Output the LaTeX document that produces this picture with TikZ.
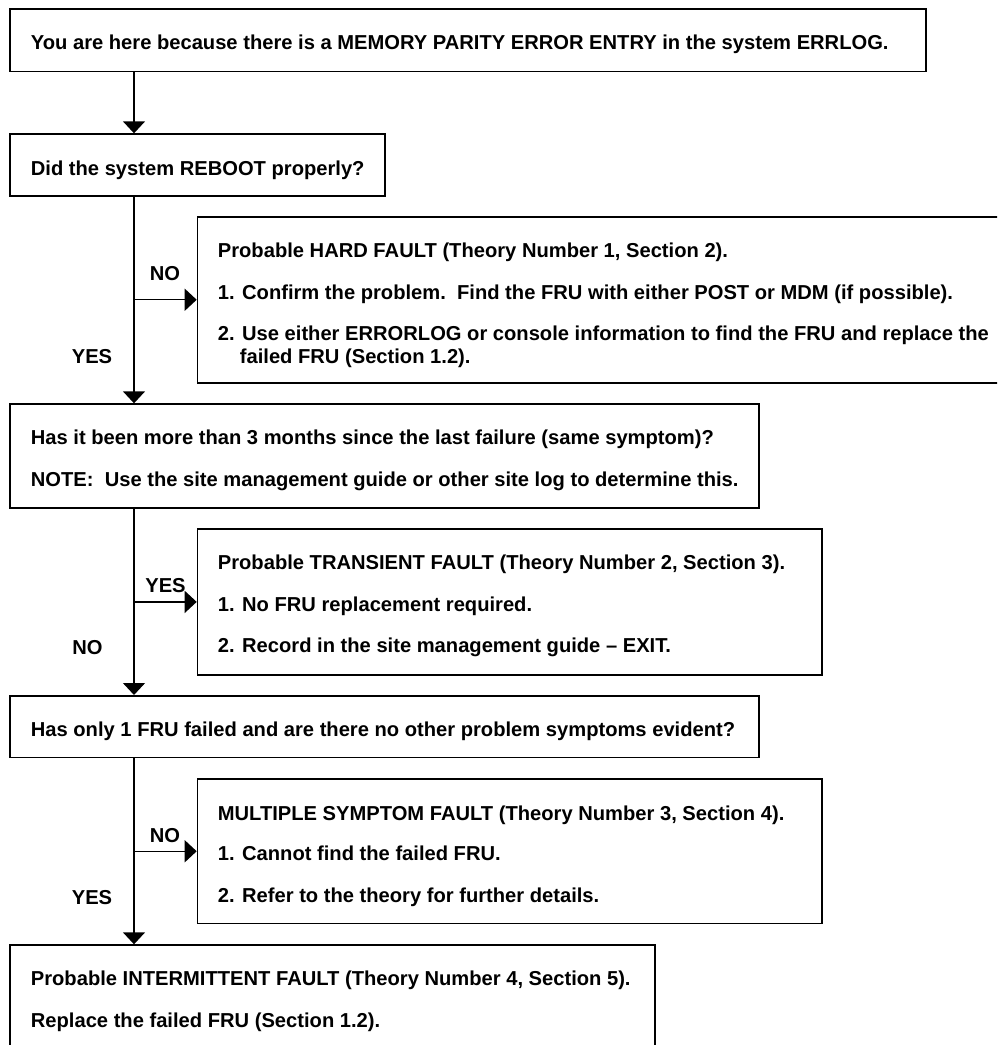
\documentclass[tikz,border=0pt]{standalone}
\usepackage{fontspec}
\setmainfont{Liberation Sans}
\usetikzlibrary{arrows.meta}
\tikzset{
  box/.style={draw=black, line width=1.5pt, fill=white, anchor=north west, inner sep=0pt},
  txt/.style={anchor=base west, inner sep=0pt, font=\fontsize{20.15}{24}\selectfont\bfseries},
  lbl/.style={anchor=base, inner sep=0pt, font=\fontsize{20.15}{24}\selectfont\bfseries},
  arr/.style={line width=1.4pt, -{Triangle[length=12pt,width=22pt]}}
}
\begin{document}
\begin{tikzpicture}[x=1pt,y=-1pt]
\useasboundingbox (0,0) rectangle (997,1045);
\fill[white] (0,0) rectangle (997,1045);
\clip (0,0) rectangle (997,1045);
\coordinate (spine) at (134,0);

% boxes
\node[box, minimum width=916pt, minimum height=62.4pt] (b1) at (9,8.3) {};
\node[box, minimum width=375pt, minimum height=62pt] (b2) at (9,133.3) {};
\node[box, minimum width=900pt, minimum height=166pt] (hard) at (196.7,216) {};
\node[box, minimum width=749.3pt, minimum height=104pt] (b3) at (9,403.3) {};
\node[box, minimum width=624.3pt, minimum height=145.7pt] (trans) at (196.7,528.3) {};
\node[box, minimum width=749.3pt, minimum height=61.7pt] (b4) at (9,695) {};
\node[box, minimum width=624.3pt, minimum height=144.4pt] (multi) at (196.7,778.3) {};
\node[box, minimum width=645.3pt, minimum height=150pt] (final) at (9,944.3) {};

% texts
\node[txt] (t1) at (30.7,49) {You are here because there is a MEMORY PARITY ERROR ENTRY in the system ERRLOG.};
\node[txt] (t2) at (30.7,175) {Did the system REBOOT properly?};

\node[txt] (h1) at (217.7,257.2) {Probable HARD FAULT (Theory Number 1, Section 2).};
\node[txt] (h2) at (217.7,299.7) {1. Confirm the problem.\ \ Find the FRU with either POST or MDM (if possible).};
\node[txt] (h3) at (217.7,340.5) {2. Use either ERRORLOG or console information to find the FRU and replace the};
\node[txt] (h4) at (239.7,363) {failed FRU (Section 1.2).};

\node[txt] (q3a) at (30.7,444) {Has it been more than 3 months since the last failure (same symptom)?};
\node[txt] (q3b) at (30.7,486.4) {NOTE:\ \ Use the site management guide or other site log to determine this.};

\node[txt] (tr1) at (217.7,569.7) {Probable TRANSIENT FAULT (Theory Number 2, Section 3).};
\node[txt] (tr2) at (217.7,611.7) {1. No FRU replacement required.};
\node[txt] (tr3) at (217.7,652.3) {2. Record in the site management guide – EXIT.};

\node[txt] (q4) at (30.7,736.5) {Has only 1 FRU failed and are there no other problem symptoms evident?};

\node[txt] (m1) at (217.7,820) {MULTIPLE SYMPTOM FAULT (Theory Number 3, Section 4).};
\node[txt] (m2) at (217.7,860) {1. Cannot find the failed FRU.};
\node[txt] (m3) at (217.7,902) {2. Refer to the theory for further details.};

\node[txt] (f1) at (30.7,985) {Probable INTERMITTENT FAULT (Theory Number 4, Section 5).};
\node[txt] (f2) at (30.7,1027) {Replace the failed FRU (Section 1.2).};

% branch labels
\node[lbl] (no1) at (165,280) {NO};
\node[lbl] (yes1) at (92,363) {YES};
\node[lbl] (yes2) at (165.5,592) {YES};
\node[lbl] (no2) at (87.5,654) {NO};
\node[lbl] (no3) at (165,842) {NO};
\node[lbl] (yes3) at (92,904) {YES};

% connectors
\draw[arr] (spine |- b1.south) -- (spine |- b2.north);
\draw[arr] (spine |- b2.south) -- (spine |- b3.north);
\draw[arr] (spine |- hard.west) -- (hard.west);
\draw[arr] (spine |- b3.south) -- (spine |- b4.north);
\draw[arr] (spine |- trans.west) -- (trans.west);
\draw[arr] (spine |- b4.south) -- (spine |- final.north);
\draw[arr] (spine |- multi.west) -- (multi.west);
\end{tikzpicture}
\end{document}
